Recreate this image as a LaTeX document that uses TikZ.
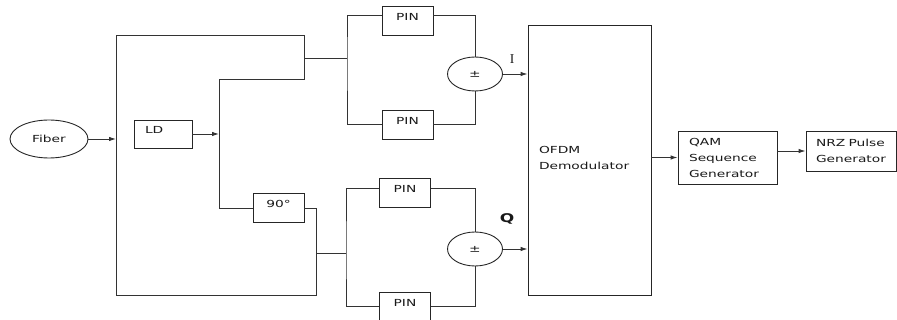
\documentclass[tikz,border=0pt]{standalone}
\usepackage{fontspec}
\setmainfont{DejaVu Sans}[FakeStretch=1.42]
\newfontfamily\labelserif{Liberation Serif}
\usetikzlibrary{shapes.geometric, arrows.meta}
\tikzstyle{block} = [
    rectangle,
    draw=black!85,
    line width=0.9pt,
    inner xsep=11pt,
    inner ysep=0pt,
    align=left
]
\tikzstyle{pin} = [
    rectangle,
    draw=black!85,
    line width=0.9pt,
    minimum width=51pt,
    minimum height=29pt,
    inner sep=0pt,
    text height=7pt,
    text depth=7pt
]
\tikzstyle{sum} = [
    ellipse,
    draw=black!85,
    line width=0.9pt,
    minimum width=55pt,
    minimum height=34pt,
    inner sep=0pt
]
\tikzstyle{wire} = [draw=black!80, line width=0.9pt]
\tikzstyle{arrow} = [wire,-{Latex[length=7pt,width=4.5pt]}]

\begin{document}
\begin{tikzpicture}[x=1pt, y=-1pt, font=\fontsize{9.7}{16}\selectfont, text=black!90]

\useasboundingbox (0,0) rectangle (897,320);

\node (fiber) [sum, minimum width=78pt, minimum height=38pt] at (49,139) {Fiber};

\node (ld) [block, text width=36pt, minimum height=28pt,
    text height=7pt, text depth=7pt] at (163,134) {LD};

\node (ninety) [pin] at (278.5,208) {90°};

\node (pinA) [pin] at (407.5,20.5) {PIN};
\node (pinB) [pin] at (407.5,124.5) {PIN};
\node (pinC) [pin] at (405,192.5) {PIN};
\node (pinD) [pin] at (405,306.5) {PIN};

\node (sumI) [sum] at (475,74) {±};
\node (sumQ) [sum] at (475,249) {±};

\node (ofdm) [block, text width=101pt, minimum height=270pt, text depth=20pt]
    at (589.5,160) {OFDM\\Demodulator};

\node (qam) [block, text width=77pt, minimum height=53pt]
    at (727.5,157.5) {QAM\\Sequence\\Generator};

\node (nrz) [block, inner xsep=10pt, text width=70pt, minimum height=40pt]
    at (851,151) {NRZ Pulse\\Generator};

\node (lblI) [font=\labelserif\fontsize{13.5}{14}\selectfont] at (512,59) {I};
\node (lblQ) [font=\bfseries\fontsize{12}{14}\selectfont] at (507,219) {Q};

% splitter and LO bus
\coordinate (split) at (116,139);
\coordinate (frameNE) at (304,35);
\coordinate (tapI) at (304,58);
\coordinate (loTop) at (219,79);
\coordinate (frameSE) at (316,295);
\coordinate (tapQ) at (316,253);
\coordinate (busI) at (347,58);
\coordinate (busQ) at (346,253);

\draw [arrow] (fiber.east) -- (split);
\draw [wire] (split) |- (frameNE) -- (frameNE |- loTop) -- (loTop) |- (ninety.west);
\draw [wire] (ninety.east) -| (frameSE) -| (split);
\draw [arrow] (ld.east) -- (ld.east -| loTop);

\draw [wire] (tapI) -- (busI);
\draw [wire] ([yshift=5pt]pinA.west) -| (busI) |- (pinB.west);
\draw [wire] (tapQ) -- (busQ);
\draw [wire] ([yshift=4pt]pinC.west) -| (busQ) |- (pinD.west);

\draw [wire] ([yshift=5pt]pinA.east) -| (sumI.north);
\draw [wire] (pinB.east) -| (sumI.south);
\draw [wire] ([yshift=4pt]pinC.east) -| (sumQ.north);
\draw [wire] (pinD.east) -| (sumQ.south);

\draw [arrow] (sumI.east) -- (sumI.east -| ofdm.west);
\draw [arrow] (sumQ.east) -- (sumQ.east -| ofdm.west);
\draw [arrow] (ofdm.east |- qam.west) -- (qam.west);
\draw [arrow] (qam.east |- nrz.west) -- (nrz.west);

\end{tikzpicture}
\end{document}
